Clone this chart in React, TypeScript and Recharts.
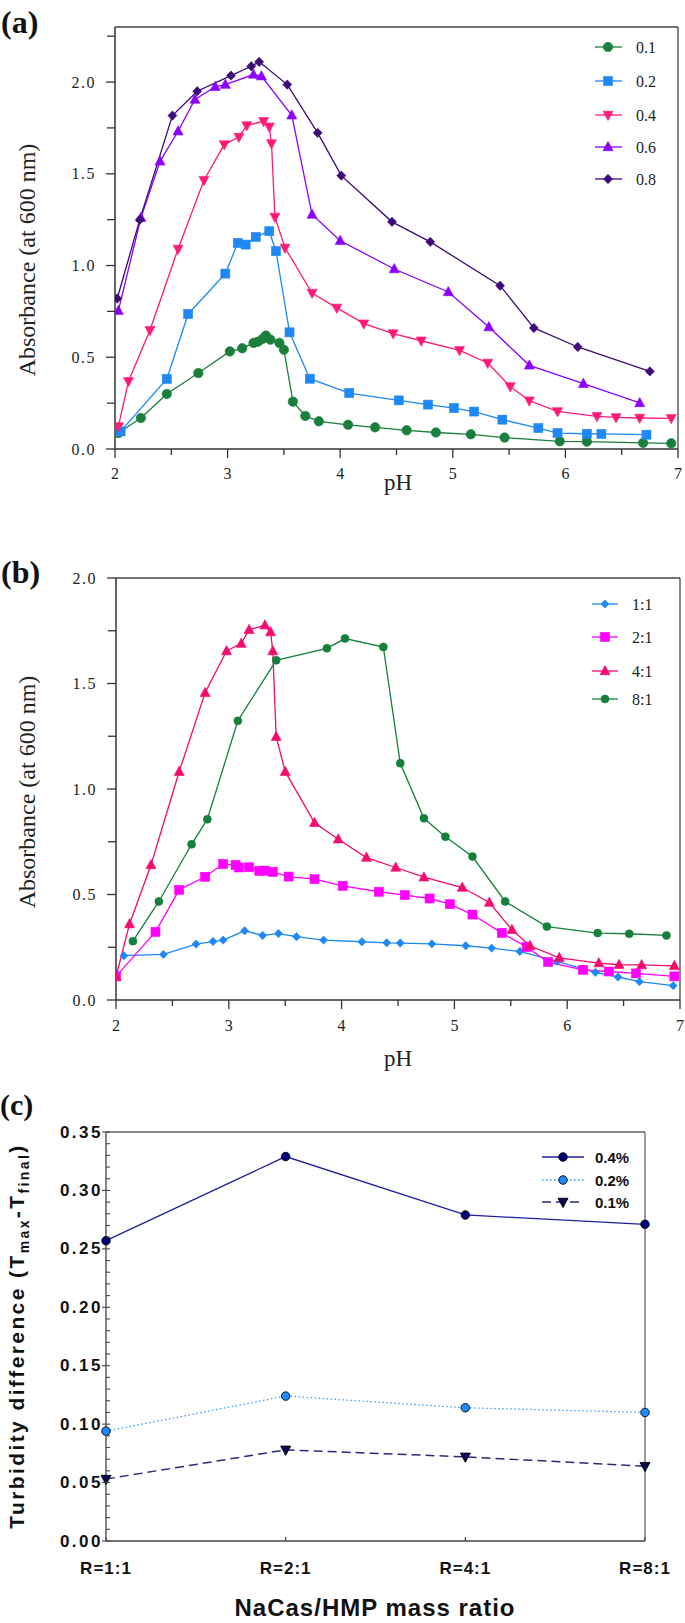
import { Line, LineChart, ReferenceLine, XAxis, YAxis } from 'recharts'

// (a) absorbance vs pH, NaCas concentrations
const phA01 = [2.03, 2.23, 2.46, 2.74, 3.02, 3.13, 3.23, 3.27, 3.31, 3.34, 3.38, 3.46, 3.5, 3.58, 3.69, 3.81, 4.07, 4.31, 4.59, 4.85, 5.16, 5.46, 5.95, 6.19, 6.69, 6.94]
const absA01 = [0.087, 0.169, 0.3, 0.414, 0.532, 0.549, 0.578, 0.585, 0.6, 0.618, 0.596, 0.578, 0.541, 0.258, 0.18, 0.151, 0.132, 0.118, 0.102, 0.09, 0.08, 0.062, 0.042, 0.04, 0.033, 0.031]
const phA02 = [2.05, 2.46, 2.65, 2.98, 3.09, 3.16, 3.25, 3.37, 3.43, 3.55, 3.73, 4.08, 4.52, 4.78, 5.01, 5.19, 5.44, 5.76, 5.93, 6.19, 6.32, 6.72]
const absA02 = [0.096, 0.382, 0.736, 0.956, 1.123, 1.114, 1.156, 1.187, 1.078, 0.636, 0.383, 0.305, 0.265, 0.242, 0.223, 0.204, 0.16, 0.114, 0.087, 0.083, 0.082, 0.078]
const phA04 = [2.03, 2.12, 2.31, 2.56, 2.79, 2.97, 3.1, 3.17, 3.32, 3.37, 3.39, 3.42, 3.51, 3.75, 3.97, 4.21, 4.47, 4.72, 5.06, 5.31, 5.51, 5.68, 5.93, 6.28, 6.45, 6.66, 6.94]
const absA04 = [0.123, 0.369, 0.647, 1.09, 1.465, 1.659, 1.7, 1.763, 1.786, 1.756, 1.665, 1.265, 1.096, 0.85, 0.769, 0.683, 0.629, 0.59, 0.538, 0.469, 0.341, 0.263, 0.205, 0.178, 0.172, 0.169, 0.167]
const phA06 = [2.03, 2.23, 2.4, 2.56, 2.71, 2.89, 2.98, 3.23, 3.3, 3.57, 3.75, 4.0, 4.48, 4.96, 5.32, 5.68, 6.16, 6.66]
const absA06 = [0.754, 1.26, 1.568, 1.732, 1.905, 1.974, 1.986, 2.041, 2.032, 1.819, 1.278, 1.135, 0.981, 0.856, 0.665, 0.456, 0.356, 0.251]
const phA08 = [2.02, 2.22, 2.51, 2.73, 3.03, 3.21, 3.28, 3.53, 3.8, 4.01, 4.46, 4.8, 5.42, 5.72, 6.11, 6.75]
const absA08 = [0.82, 1.25, 1.817, 1.95, 2.035, 2.086, 2.11, 1.986, 1.723, 1.49, 1.238, 1.129, 0.89, 0.66, 0.556, 0.423]

// (b) absorbance vs pH, mass ratios
const phB11 = [2.07, 2.42, 2.71, 2.86, 2.95, 3.14, 3.3, 3.44, 3.6, 3.84, 4.18, 4.4, 4.52, 4.8, 5.1, 5.33, 5.58, 5.91, 6.25, 6.45, 6.64, 6.94]
const absB11 = [0.21, 0.216, 0.265, 0.277, 0.284, 0.328, 0.306, 0.315, 0.3, 0.284, 0.276, 0.271, 0.27, 0.266, 0.257, 0.246, 0.23, 0.183, 0.131, 0.109, 0.087, 0.068]
const phB21 = [2.0, 2.35, 2.56, 2.79, 2.95, 3.06, 3.09, 3.18, 3.27, 3.32, 3.39, 3.53, 3.76, 4.01, 4.33, 4.56, 4.78, 4.96, 5.16, 5.42, 5.64, 5.83, 6.14, 6.37, 6.61, 6.95]
const absB21 = [0.112, 0.323, 0.522, 0.584, 0.645, 0.64, 0.628, 0.629, 0.612, 0.613, 0.607, 0.585, 0.573, 0.541, 0.513, 0.497, 0.481, 0.454, 0.405, 0.318, 0.251, 0.18, 0.143, 0.135, 0.126, 0.112]
const phB41 = [2.0, 2.12, 2.31, 2.56, 2.79, 2.98, 3.11, 3.18, 3.32, 3.37, 3.39, 3.42, 3.5, 3.76, 3.97, 4.22, 4.48, 4.73, 5.07, 5.31, 5.51, 5.67, 5.93, 6.28, 6.46, 6.66, 6.95]
const absB41 = [0.11, 0.36, 0.64, 1.082, 1.456, 1.654, 1.689, 1.755, 1.776, 1.744, 1.654, 1.248, 1.082, 0.84, 0.762, 0.675, 0.628, 0.582, 0.533, 0.462, 0.333, 0.257, 0.2, 0.175, 0.167, 0.166, 0.162]
const phB81 = [2.15, 2.38, 2.67, 2.81, 3.08, 3.42, 3.87, 4.03, 4.37, 4.52, 4.73, 4.92, 5.16, 5.45, 5.82, 6.27, 6.55, 6.88]
const absB81 = [0.279, 0.467, 0.738, 0.857, 1.323, 1.61, 1.667, 1.713, 1.673, 1.122, 0.861, 0.774, 0.68, 0.467, 0.348, 0.317, 0.314, 0.306]

// (c) turbidity difference per mass ratio
const ratios = ['R=1:1', 'R=2:1', 'R=4:1', 'R=8:1']
const turb04 = [0.257, 0.329, 0.279, 0.271]
const turb02 = [0.094, 0.124, 0.114, 0.11]
const turb01 = [0.053, 0.078, 0.072, 0.064]

// ticks
const phTicks = [2, 2.5, 3, 3.5, 4, 4.5, 5, 5.5, 6, 6.5, 7]
const phLabels = [2, 3, 4, 5, 6, 7]
const absTicksA = [0, 0.25, 0.5, 0.75, 1, 1.25, 1.5, 1.75, 2, 2.25]
const absTicksB = [0, 0.25, 0.5, 0.75, 1, 1.25, 1.5, 1.75, 2]
const absLabels = [0, 0.5, 1, 1.5, 2]
const turbTicks = [0, 0.01, 0.02, 0.03, 0.04, 0.05, 0.06, 0.07, 0.08, 0.09, 0.1, 0.11, 0.12, 0.13, 0.14, 0.15, 0.16, 0.17, 0.18, 0.19, 0.2, 0.21, 0.22, 0.23, 0.24, 0.25, 0.26, 0.27, 0.28, 0.29, 0.3, 0.31, 0.32, 0.33, 0.34, 0.35]
const turbLabels = [0, 0.05, 0.1, 0.15, 0.2, 0.25, 0.3, 0.35]

const SERIF = '"Liberation Serif", "Times New Roman", serif'
const SANS = '"Liberation Sans", Arial, sans-serif'
const AXIS = '#333'

const zip = (xs: number[], ys: number[]) => xs.map((x, i) => ({ x, y: ys[i] }))

const seriesA = [
  { name: '0.1', data: zip(phA01, absA01), color: '#1a7f3c', shape: 'circle', size: 9.5 },
  { name: '0.2', data: zip(phA02, absA02), color: '#1e88f5', shape: 'square', size: 9 },
  { name: '0.4', data: zip(phA04, absA04), color: '#ff1a78', shape: 'triDown', size: 10 },
  { name: '0.6', data: zip(phA06, absA06), color: '#8c00ff', shape: 'triUp', size: 10 },
  { name: '0.8', data: zip(phA08, absA08), color: '#3d0a78', shape: 'diamond', size: 9 },
]

const seriesB = [
  { name: '1:1', data: zip(phB11, absB11), color: '#1e88f5', shape: 'diamond', size: 8 },
  { name: '2:1', data: zip(phB21, absB21), color: '#ff00ff', shape: 'square', size: 9 },
  { name: '4:1', data: zip(phB41, absB41), color: '#f50a6e', shape: 'triUp', size: 10 },
  { name: '8:1', data: zip(phB81, absB81), color: '#14803c', shape: 'circle', size: 8 },
]

const dataC = ratios.map((r, i) => ({ ratio: r, c04: turb04[i], c02: turb02[i], c01: turb01[i] }))

const seriesC = [
  { name: '0.4%', key: 'c04', line: '#1f1f9e', fill: '#00007a', dash: undefined, shape: 'circle', size: 8.5, width: 1.3 },
  { name: '0.2%', key: 'c02', line: '#3d9dff', fill: '#1e8cff', dash: '1.5 2.5', shape: 'circle', size: 8.5, width: 1.3 },
  { name: '0.1%', key: 'c01', line: '#2a2a7c', fill: '#0a0a55', dash: '9 5', shape: 'triDown', size: 10, width: 1.5 },
]

const Mark = ({ cx, cy, shape, size, fill, stroke, strokeWidth = 0.6 }: any) => {
  if (cx == null || cy == null) return null
  const h = size / 2
  const common = { fill, stroke: stroke ?? fill, strokeWidth }
  if (shape === 'circle') return <circle cx={cx} cy={cy} r={h} {...common} />
  if (shape === 'square') return <rect x={cx - h} y={cy - h} width={size} height={size} {...common} />
  if (shape === 'diamond') return <polygon points={`${cx},${cy - h * 1.05} ${cx + h},${cy} ${cx},${cy + h * 1.05} ${cx - h},${cy}`} {...common} />
  if (shape === 'triUp') return <polygon points={`${cx},${cy - h * 1.1} ${cx + h},${cy + h * 0.75} ${cx - h},${cy + h * 0.75}`} {...common} />
  return <polygon points={`${cx - h},${cy - h * 0.75} ${cx + h},${cy - h * 0.75} ${cx},${cy + h * 1.1}`} {...common} />
}

const SerifXTick = ({ x, y, payload, labels, gap }: any) => {
  const major = labels.includes(payload.value)
  return (
    <g>
      <line x1={x} x2={x} y1={y} y2={y + (major ? 9 : 6)} stroke={AXIS} strokeWidth={1.3} />
      {major && (
        <text x={x} y={y + gap} textAnchor="middle" dominantBaseline="central" fontFamily={SERIF} fontSize={16} fill="#222">
          {payload.value}
        </text>
      )}
    </g>
  )
}

const SerifYTick = ({ x, y, payload, labels }: any) => {
  const major = labels.includes(payload.value)
  return (
    <g>
      <line x1={x - (major ? 9 : 8)} x2={x} y1={y} y2={y} stroke={AXIS} strokeWidth={1.3} />
      {major && (
        <text x={x - 19} y={y} textAnchor="end" dominantBaseline="central" fontFamily={SERIF} fontSize={16} letterSpacing={1.5} fill="#222">
          {payload.value.toFixed(1)}
        </text>
      )}
    </g>
  )
}

const SansXTick = ({ x, y, payload }: any) => (
  <g>
    <line x1={x} x2={x} y1={y} y2={y - 4} stroke="#444" strokeWidth={1.2} />
    <text x={x} y={y + 27} textAnchor="middle" dominantBaseline="central" fontFamily={SANS} fontWeight="bold" fontSize={17} letterSpacing={1} fill="#111">
      {payload.value}
    </text>
  </g>
)

const SansYTick = ({ x, y, payload }: any) => {
  const major = turbLabels.includes(payload.value)
  return (
    <g>
      <line x1={major ? x - 4 : x} x2={x + 4} y1={y} y2={y} stroke="#444" strokeWidth={1.1} />
      {major && (
        <text x={x - 3} y={y} textAnchor="end" dominantBaseline="central" fontFamily={SANS} fontWeight="bold" fontSize={17} letterSpacing={2.5} fill="#111">
          {payload.value.toFixed(2)}
        </text>
      )}
    </g>
  )
}

const PhPanel = ({ series, yDomain, yTicks, height, margin, tickGap }: any) => (
  <LineChart width={685} height={height} margin={margin}>
    <XAxis
      dataKey="x"
      type="number"
      domain={[2, 7]}
      ticks={phTicks}
      interval={0}
      allowDataOverflow
      height={40}
      tickSize={0}
      tickMargin={0}
      tickLine={false}
      axisLine={{ stroke: AXIS, strokeWidth: 1.5 }}
      tick={<SerifXTick labels={phLabels} gap={tickGap} />}
    />
    <YAxis
      type="number"
      domain={yDomain}
      ticks={yTicks}
      interval={0}
      allowDataOverflow
      width={margin.yw}
      tickSize={0}
      tickMargin={0}
      tickLine={false}
      axisLine={{ stroke: AXIS, strokeWidth: 1.5 }}
      tick={<SerifYTick labels={absLabels} />}
    />
    <ReferenceLine y={yDomain[1]} stroke="#444" strokeWidth={1.3} />
    <ReferenceLine x={7} stroke="#444" strokeWidth={1.3} />
    {series.map((s: any) => (
      <Line
        key={s.name}
        data={s.data}
        dataKey="y"
        type="linear"
        stroke={s.color}
        strokeWidth={1.3}
        isAnimationActive={false}
        activeDot={false}
        dot={(p: any) => <Mark key={`${s.name}-${p.index}`} cx={p.cx} cy={p.cy} shape={s.shape} size={s.size} fill={s.color} />}
      />
    ))}
  </LineChart>
)

const App = () => (
  <div style={{ position: 'absolute', left: 0, top: 0, width: 685, height: 1623, background: '#fff' }}>
    <div style={{ position: 'absolute', left: 0, top: 0 }}>
      <PhPanel
        series={seriesA}
        yDomain={[0, 2.3]}
        yTicks={absTicksA}
        height={520}
        margin={{ top: 27, right: 7, bottom: 31, left: 0, yw: 115 }}
        tickGap={24}
      />
    </div>
    <div style={{ position: 'absolute', left: 0, top: 540 }}>
      <PhPanel
        series={seriesB}
        yDomain={[0, 2]}
        yTicks={absTicksB}
        height={520}
        margin={{ top: 38, right: 5, bottom: 20, left: 0, yw: 116 }}
        tickGap={25}
      />
    </div>
    <div style={{ position: 'absolute', left: 0, top: 1080 }}>
      <LineChart width={685} height={543} data={dataC} margin={{ top: 52, right: 40, bottom: 42, left: 0 }}>
        <XAxis
          dataKey="ratio"
          type="category"
          interval={0}
          height={40}
          tickSize={0}
          tickMargin={0}
          tickLine={false}
          axisLine={{ stroke: '#444', strokeWidth: 1.3 }}
          tick={<SansXTick />}
        />
        <YAxis
          type="number"
          domain={[0, 0.35]}
          ticks={turbTicks}
          interval={0}
          allowDataOverflow
          width={106}
          tickSize={0}
          tickMargin={0}
          tickLine={false}
          axisLine={{ stroke: '#444', strokeWidth: 1.3 }}
          tick={<SansYTick />}
        />
        <ReferenceLine y={0.35} stroke="#666" strokeWidth={1.3} />
        <ReferenceLine x="R=8:1" stroke="#666" strokeWidth={1.3} />
        {seriesC.map((s) => (
          <Line
            key={s.key}
            dataKey={s.key}
            type="linear"
            stroke={s.line}
            strokeWidth={s.width}
            strokeDasharray={s.dash}
            isAnimationActive={false}
            activeDot={false}
            dot={(p: any) => <Mark key={`${s.key}-${p.index}`} cx={p.cx} cy={p.cy} shape={s.shape} size={s.size} fill={s.fill} stroke="#000" strokeWidth={0.9} />}
          />
        ))}
      </LineChart>
    </div>

    <svg width={685} height={1623} style={{ position: 'absolute', left: 0, top: 0, pointerEvents: 'none' }}>
      {/* panel letters */}
      <text x={1} y={33} fontFamily={SERIF} fontWeight="bold" fontSize={32} fill="#111">(a)</text>
      <text x={1} y={583} fontFamily={SERIF} fontWeight="bold" fontSize={32} fill="#111">(b)</text>
      <text x={0} y={1115} fontFamily={SERIF} fontWeight="bold" fontSize={30} fill="#111">(c)</text>

      {/* axis titles */}
      <text transform="translate(27,260) rotate(-90)" textAnchor="middle" dominantBaseline="central" fontFamily={SERIF} fontSize={24} fill="#222">
        Absorbance (at 600 nm)
      </text>
      <text x={398} y={482} textAnchor="middle" dominantBaseline="central" fontFamily={SERIF} fontSize={23} fill="#222">pH</text>
      <text transform="translate(27,792) rotate(-90)" textAnchor="middle" dominantBaseline="central" fontFamily={SERIF} fontSize={24} fill="#222">
        Absorbance (at 600 nm)
      </text>
      <text x={398} y={1058} textAnchor="middle" dominantBaseline="central" fontFamily={SERIF} fontSize={23} fill="#222">pH</text>
      <text transform="translate(24,1336) rotate(-90)" textAnchor="middle" fontFamily={SANS} fontWeight="bold" fontSize={21} letterSpacing={2.4} fill="#111">
        Turbidity difference (T<tspan dy={5} fontSize={14}>max</tspan>
        <tspan dy={-5}>-T</tspan>
        <tspan dy={5} fontSize={14}>final</tspan>
        <tspan dy={-5}>)</tspan>
      </text>
      <text x={375} y={1616} textAnchor="middle" fontFamily={SANS} fontWeight="bold" fontSize={24} letterSpacing={1} fill="#111">
        NaCas/HMP mass ratio
      </text>

      {/* legends */}
      {seriesA.map((s, i) => {
        const y = [47, 81, 115, 147, 179][i]
        return (
          <g key={s.name}>
            <line x1={595} x2={622} y1={y} y2={y} stroke={s.color} strokeWidth={1.3} />
            <Mark cx={608} cy={y} shape={s.shape} size={s.size} fill={s.color} />
            <text x={636} y={y} dominantBaseline="central" fontFamily={SERIF} fontSize={16} fill="#222">{s.name}</text>
          </g>
        )
      })}
      {seriesB.map((s, i) => {
        const y = [604, 637, 671, 699][i]
        return (
          <g key={s.name}>
            <line x1={592} x2={618} y1={y} y2={y} stroke={s.color} strokeWidth={1.3} />
            <Mark cx={605} cy={y} shape={s.shape} size={s.size} fill={s.color} />
            <text x={632} y={y} dominantBaseline="central" fontFamily={SERIF} fontSize={16} fill="#222">{s.name}</text>
          </g>
        )
      })}
      {seriesC.map((s, i) => {
        const y = [1157, 1180, 1202][i]
        return (
          <g key={s.name}>
            <line x1={542} x2={584} y1={y} y2={y} stroke={s.line} strokeWidth={s.width} strokeDasharray={s.dash} />
            <Mark cx={563} cy={y} shape={s.shape} size={s.size} fill={s.fill} stroke="#000" strokeWidth={0.9} />
            <text x={595} y={y} dominantBaseline="central" fontFamily={SANS} fontWeight="bold" fontSize={15} fill="#111">{s.name}</text>
          </g>
        )
      })}
    </svg>
  </div>
)

export default App
